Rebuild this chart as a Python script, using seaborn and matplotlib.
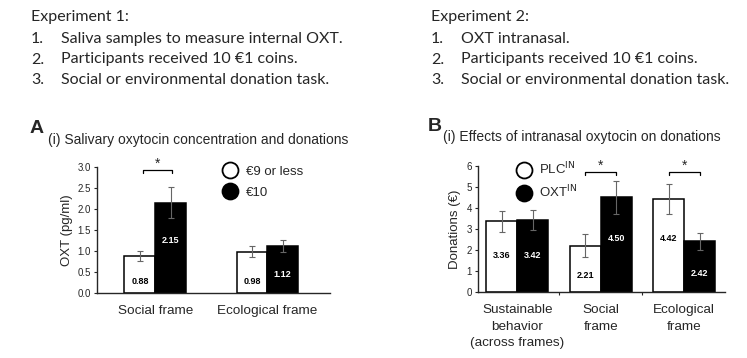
import pandas as pd
import seaborn as sns
import matplotlib.pyplot as plt
from matplotlib.lines import Line2D

# Experiment 1 - salivary OXT split by donation group
frames_a = ["Social frame", "Ecological frame"]
groups_a = ["€9 or less", "€10"]
oxt_low = [0.88, 0.98]
oxt_high = [2.15, 1.12]
err_low = [0.13, 0.13]
err_high = [0.37, 0.15]

# Experiment 2 - donations after intranasal placebo / OXT
frames_b = ["Sustainable\nbehavior\n(across frames)", "Social\nframe", "Ecological\nframe"]
groups_b = ["PLC$^{\\mathrm{IN}}$", "OXT$^{\\mathrm{IN}}$"]
don_plc = [3.36, 2.21, 4.42]
don_oxt = [3.42, 4.50, 2.42]
err_plc = [0.50, 0.55, 0.73]
err_oxt = [0.47, 0.80, 0.40]

exp1_title = "Experiment 1:"
exp1_steps = ["Saliva samples to measure internal OXT.",
              "Participants received 10 €1 coins.",
              "Social or environmental donation task."]
exp2_title = "Experiment 2:"
exp2_steps = ["OXT intranasal.",
              "Participants received 10 €1 coins.",
              "Social or environmental donation task."]

sns.set_style("ticks")
plt.rcParams['font.family'] = ['Liberation Sans', 'DejaVu Sans']

fig = plt.figure(figsize=(7.47, 3.58), dpi=100)


def draw_panel(ax, frames, groups, v1, v2, e1, e2, width):
    df = pd.DataFrame({
        "frame": frames * 2,
        "group": [groups[0]] * len(frames) + [groups[1]] * len(frames),
        "value": v1 + v2,
    })
    sns.barplot(data=df, x="frame", y="value", hue="group", order=frames,
                hue_order=groups, palette=["white", "black"], saturation=1,
                edgecolor="black", linewidth=1.1, width=width,
                errorbar=None, legend=False, ax=ax)
    bars = sorted([p for p in ax.patches if p.get_height() > 0], key=lambda p: p.get_x())
    vals, errs = [], []
    for i in range(len(frames)):
        vals += [v1[i], v2[i]]
        errs += [e1[i], e2[i]]
    centers = []
    for p, v, e in zip(bars, vals, errs):
        x = p.get_x() + p.get_width() / 2
        centers.append(x)
        ax.errorbar(x, v, yerr=e, color="0.4", lw=0.8, capsize=2.5, capthick=0.8)
    sns.despine(ax=ax)
    ax.spines[['left', 'bottom']].set_linewidth(1.0)
    ax.set_xlabel("")
    ax.tick_params(axis='x', length=0, labelsize=9.7, pad=9)
    ax.tick_params(axis='y', length=2.5, width=0.8, labelsize=7, pad=2)
    for t in ax.get_xticklabels():
        t.set_linespacing(1.45)
    return centers, vals


def bracket(ax, x0, x1, y, drop):
    ax.plot([x0, x0, x1, x1], [y - drop, y, y, y - drop], color="black", lw=0.9, clip_on=False)
    ax.text((x0 + x1) / 2, y - drop * 0.2, "*", ha="center", va="bottom", fontsize=10, clip_on=False)


# ---------------- panel A
ax_a = fig.add_axes([0.1299, 0.1816, 0.312, 0.352])
c_a, v_a = draw_panel(ax_a, frames_a, groups_a, oxt_low, oxt_high, err_low, err_high, 0.55)
ax_a.set_ylim(0, 3.0)
ax_a.set_xlim(-0.52, 1.56)
ax_a.set_yticks([0, 0.5, 1.0, 1.5, 2.0, 2.5, 3.0])
ax_a.set_yticklabels(["0.0", "0.5", "1.0", "1.5", "2.0", "2.5", "3.0"])
ax_a.set_ylabel("OXT (pg/ml)", fontsize=9.5, labelpad=3)
lab_y_a = [0.27, 1.26, 0.27, 0.43]
for x, v, ly, col in zip(c_a, v_a, lab_y_a, ["black", "white"] * 2):
    ax_a.text(x, ly, f"{v:.2f}", ha="center", va="center", fontsize=6.5, fontweight="bold", color=col)
bracket(ax_a, c_a[0] + 0.03, c_a[1] + 0.01, 2.93, 0.08)
handles_a = [Line2D([], [], ls="", marker="o", ms=11.5, mfc=c, mec="black", mew=1.3) for c in ["white", "black"]]
ax_a.legend(handles_a, groups_a, loc="upper left", bbox_to_anchor=(0.49, 1.055), frameon=False,
            fontsize=9.5, handletextpad=0.2, labelspacing=0.7, borderaxespad=0)

fig.text(0.040, 0.640, "A", fontsize=14, fontweight="bold", ha="left", va="center")
fig.text(0.064, 0.609, "(i) Salivary oxytocin concentration and donations", fontsize=10, ha="left", va="center")

# ---------------- panel B
ax_b = fig.add_axes([0.6399, 0.1844, 0.3306, 0.352])
c_b, v_b = draw_panel(ax_b, frames_b, groups_b, don_plc, don_oxt, err_plc, err_oxt, 0.74)
ax_b.set_ylim(0, 6)
ax_b.set_xlim(-0.47, 2.49)
ax_b.set_yticks(range(0, 7))
ax_b.set_ylabel("Donations (€)", fontsize=9.5, labelpad=4)
ax_b.set_xticks([0.5, 1.5], minor=True)
ax_b.tick_params(axis='x', which='minor', length=2.5, width=0.8)
lab_y_b = [1.76, 1.76, 0.78, 2.55, 2.55, 0.89]
for x, v, ly, col in zip(c_b, v_b, lab_y_b, ["black", "white"] * 3):
    ax_b.text(x, ly, f"{v:.2f}", ha="center", va="center", fontsize=6.5, fontweight="bold", color=col)
bracket(ax_b, c_b[2], c_b[3], 5.73, 0.16)
bracket(ax_b, c_b[4], c_b[5], 5.73, 0.16)
handles_b = [Line2D([], [], ls="", marker="o", ms=11.5, mfc=c, mec="black", mew=1.3) for c in ["white", "black"]]
ax_b.legend(handles_b, groups_b, loc="upper left", bbox_to_anchor=(0.11, 1.08), frameon=False,
            fontsize=9.5, handletextpad=0.2, labelspacing=0.45, borderaxespad=0)

fig.text(0.573, 0.646, "B", fontsize=14, fontweight="bold", ha="left", va="center")
fig.text(0.593, 0.617, "(i) Effects of intranasal oxytocin on donations", fontsize=10, ha="left", va="center")

# ---------------- experiment descriptions
for x0, title, steps in [(31, exp1_title, exp1_steps), (431, exp2_title, exp2_steps)]:
    fig.text(x0 / 747, 1 - 17 / 358, title, fontsize=11.5, family="Lato", ha="left", va="center")
    for i, s in enumerate(steps):
        y = 1 - (39 + 20.5 * i) / 358
        fig.text(x0 / 747, y, f"{i + 1}.", fontsize=11.5, family="Lato", ha="left", va="center")
        fig.text((x0 + 30) / 747, y, s, fontsize=11.5, family="Lato", ha="left", va="center")

fig.savefig("out.png", dpi=100)
